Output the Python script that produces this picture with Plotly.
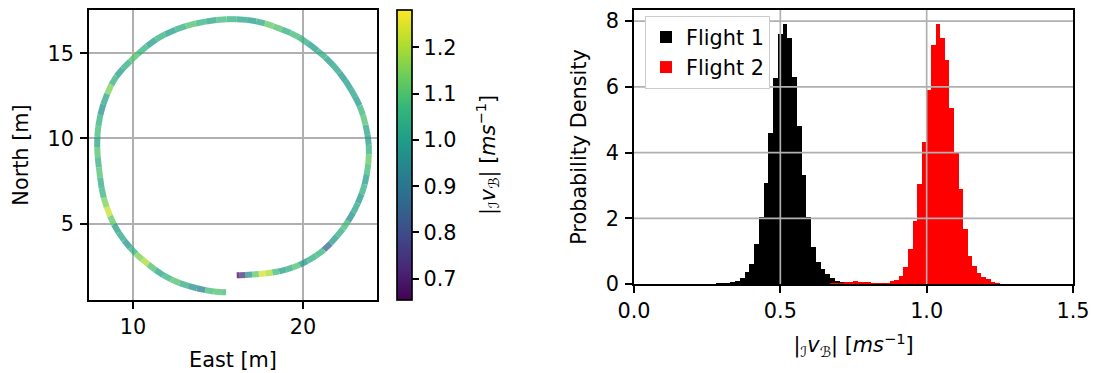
import plotly.graph_objects as go
from plotly.colors import sample_colorscale

# ---- trajectory (East / North in metres) and speed along it ----
east = [16.10, 16.45, 16.80, 17.20, 17.60, 18.00, 18.40, 18.80, 19.20, 19.60,
        20.00, 20.50, 21.00, 21.45, 21.80, 22.20, 22.50, 22.80, 23.10, 23.35,
        23.55, 23.70, 23.80, 23.87, 23.88, 23.85, 23.75, 23.60, 23.45, 23.20,
        22.95, 22.65, 22.35, 21.95, 21.55, 21.10, 20.60, 20.00, 19.50, 19.00,
        18.50, 18.00, 17.50, 17.00, 16.40, 15.80, 15.20, 14.60, 14.00, 13.40,
        12.80, 12.20, 11.60, 11.10, 10.55, 10.05, 9.60, 9.20, 8.85, 8.60,
        8.35, 8.15, 8.00, 7.92, 7.88, 7.90, 7.95, 8.03, 8.10, 8.20,
        8.35, 8.55, 8.75, 9.00, 9.30, 9.65, 10.00, 10.35, 10.70, 11.10,
        11.55, 12.00, 12.50, 13.00, 13.50, 14.00, 14.50, 15.00, 15.47]
north = [1.97, 1.98, 2.00, 2.03, 2.06, 2.10, 2.16, 2.25, 2.36, 2.50,
         2.67, 2.95, 3.26, 3.65, 4.05, 4.50, 4.90, 5.40, 5.90, 6.50,
         7.00, 7.60, 8.20, 8.80, 9.35, 9.90, 10.50, 11.10, 11.65, 12.20,
         12.65, 13.15, 13.60, 14.10, 14.55, 14.95, 15.35, 15.80, 16.10, 16.30,
         16.50, 16.68, 16.82, 16.93, 16.99, 17.01, 16.99, 16.92, 16.82, 16.68,
         16.50, 16.27, 15.97, 15.65, 15.20, 14.75, 14.30, 13.90, 13.40, 12.90,
         12.30, 11.70, 11.05, 10.40, 9.80, 9.20, 8.60, 8.00, 7.40, 6.80,
         6.25, 5.70, 5.20, 4.70, 4.25, 3.80, 3.40, 3.05, 2.78, 2.45,
         2.10, 1.85, 1.60, 1.42, 1.27, 1.15, 1.05, 0.99, 0.97]
speed = [0.66, 0.75, 0.97, 1.12, 1.24, 1.20, 1.08, 1.00, 1.04, 1.10,
         0.98, 1.04, 1.06, 0.86, 1.00, 1.04, 1.08, 0.96, 1.02, 0.98,
         1.05, 1.00, 1.08, 1.12, 1.05, 1.00, 1.02, 1.10, 1.07, 0.99,
         1.02, 1.00, 0.98, 1.02, 1.00, 1.04, 1.00, 1.05, 1.08, 1.04,
         1.10, 1.12, 1.03, 1.00, 1.02, 1.05, 1.08, 1.02, 1.06, 1.10,
         1.04, 1.00, 1.05, 1.00, 1.06, 1.10, 1.04, 1.00, 1.05, 1.15,
         1.02, 0.97, 1.05, 1.08, 1.02, 1.10, 1.05, 1.10, 1.04, 1.06,
         1.15, 1.23, 1.12, 1.00, 1.03, 0.98, 1.05, 1.15, 1.20, 1.10,
         1.02, 1.06, 1.10, 1.04, 0.97, 0.93, 1.08, 1.10, 1.08]
speed_min, speed_max = 0.654, 1.281
cbar_ticks = [0.7, 0.8, 0.9, 1.0, 1.1, 1.2]

# ---- speed histograms (left bin edges, bin width, probability density) ----
f1_edges = [0.2804, 0.2967, 0.3129, 0.3292, 0.3454, 0.3617, 0.3779, 0.3942,
            0.4104, 0.4267, 0.4429, 0.4592, 0.4754, 0.4917, 0.5079, 0.5242,
            0.5404, 0.5567, 0.5729, 0.5892, 0.6054, 0.6217, 0.6379, 0.6542,
            0.6704, 0.6867, 0.7029]
f1_width = 0.01625
f1_density = [0.01, 0.02, 0.02, 0.04, 0.09, 0.19, 0.37, 0.60, 1.21, 2.05,
              3.07, 4.59, 6.26, 7.60, 7.91, 7.49, 6.30, 4.81, 3.33, 2.03,
              1.13, 0.67, 0.47, 0.30, 0.19, 0.10, 0.04]

f2_edges = [0.6700, 0.6857, 0.7013, 0.7170, 0.7327, 0.7484, 0.7640, 0.7797,
            0.7954, 0.8110, 0.8267, 0.8424, 0.8580, 0.8737, 0.8894, 0.9051,
            0.9207, 0.9364, 0.9521, 0.9677, 0.9834, 0.9991, 1.0147, 1.0304,
            1.0461, 1.0618, 1.0774, 1.0931, 1.1088, 1.1244, 1.1401, 1.1558,
            1.1714, 1.1871, 1.2028, 1.2185, 1.2341]
f2_width = 0.01567
f2_density = [0.02, 0.03, 0.03, 0.05, 0.05, 0.09, 0.06, 0.06, 0.06, 0.02,
              0.02, 0.02, 0.03, 0.09, 0.12, 0.24, 0.52, 1.07, 1.92, 3.05,
              4.32, 5.89, 7.28, 7.91, 7.49, 6.82, 5.36, 3.98, 2.89, 1.67,
              0.85, 0.55, 0.33, 0.22, 0.16, 0.07, 0.02]

W, H = 1093, 373
FONT = "DejaVu Sans"
FS = 20.8
LW = 1.67
GRID = "#b0b0b0"
speed_label = "|<sub>ℐ</sub><i>v</i><sub>ℬ</sub>| [<i>ms</i><sup>−1</sup>]"

fig = go.Figure()

# trajectory: one short piece per sample, coloured by its speed
n = len(east)
for i in range(n):
    xs, ys = [], []
    if i > 0:
        xs.append((east[i - 1] + east[i]) / 2)
        ys.append((north[i - 1] + north[i]) / 2)
    xs.append(east[i])
    ys.append(north[i])
    if i < n - 1:
        xs.append((east[i] + east[i + 1]) / 2)
        ys.append((north[i] + north[i + 1]) / 2)
    t = (speed[i] - speed_min) / (speed_max - speed_min)
    col = sample_colorscale("Viridis", [min(max(t, 0), 1)])[0]
    fig.add_trace(go.Scatter(x=xs, y=ys, mode="lines",
                             line=dict(color=col, width=6),
                             opacity=0.75, showlegend=False, hoverinfo="skip",
                             xaxis="x", yaxis="y"))

cb_mid = (1 - 300 / H + 1 - 10 / H) / 2

# colour bar carrier
fig.add_trace(go.Scatter(
    x=east, y=north, mode="markers", showlegend=False, hoverinfo="skip",
    marker=dict(color=speed, colorscale="Viridis", cmin=speed_min, cmax=speed_max,
                size=1, opacity=0,
                colorbar=dict(
                    x=397 / W, xanchor="left", xref="paper",
                    y=cb_mid, yanchor="middle",
                    len=290 / H, lenmode="fraction", thickness=15,
                    xpad=0, ypad=0,
                    outlinewidth=LW, outlinecolor="black",
                    tickvals=cbar_ticks, ticktext=[f"{v:.1f}" for v in cbar_ticks],
                    ticks="outside", ticklen=7, tickwidth=LW, tickcolor="black",
                    tickfont=dict(family=FONT, size=FS, color="black"),
                )),
    xaxis="x", yaxis="y"))

# colour bar label
fig.add_annotation(text=speed_label, xref="paper", yref="paper",
                   x=487 / W, y=cb_mid, xanchor="center", yanchor="middle",
                   textangle=-90, showarrow=False,
                   font=dict(family=FONT, size=FS, color="black"))

# histograms
fig.add_trace(go.Bar(x=f1_edges, y=f1_density, width=f1_width, offset=0,
                     marker=dict(color="black", line=dict(width=0)),
                     name="Flight 1", xaxis="x2", yaxis="y2"))
fig.add_trace(go.Bar(x=f2_edges, y=f2_density, width=f2_width, offset=0,
                     marker=dict(color="red", line=dict(width=0)),
                     name="Flight 2", xaxis="x2", yaxis="y2"))

axis_common = dict(
    showline=True, mirror=True, linecolor="black", linewidth=LW,
    ticks="outside", ticklen=7, tickwidth=LW, tickcolor="black",
    tickfont=dict(family=FONT, size=FS, color="black"),
    showgrid=True, gridcolor=GRID, gridwidth=LW, zeroline=False,
    automargin=False,
    title_font=dict(family=FONT, size=FS, color="black"),
)

fig.update_layout(
    width=W, height=H,
    margin=dict(l=0, r=0, t=0, b=0, autoexpand=False),
    paper_bgcolor="white", plot_bgcolor="white",
    barmode="overlay", bargap=0,
    font=dict(family=FONT, size=FS, color="black"),
    xaxis=dict(domain=[89 / W, 377 / W], range=[7.41, 24.35],
               tickvals=[10, 20], title=dict(text="East [m]", standoff=15),
               anchor="y", **axis_common),
    yaxis=dict(domain=[1 - 300 / H, 1 - 10 / H], range=[0.52, 17.54],
               tickvals=[5, 10, 15], title=dict(text="North [m]", standoff=13),
               ticklabelstandoff=2,
               anchor="x", **axis_common),
    xaxis2=dict(domain=[634 / W, 1073 / W], range=[0, 1.5],
                tickvals=[0, 0.5, 1.0, 1.5], ticktext=["0.0", "0.5", "1.0", "1.5"],
                title=dict(text=speed_label, standoff=16),
                anchor="y2", **{**axis_common, "showgrid": False}),
    yaxis2=dict(domain=[1 - 284 / H, 1 - 10 / H], range=[0, 8.34],
                tickvals=[0, 2, 4, 6, 8], title=dict(text="Probability Density", standoff=13),
                ticklabelstandoff=2,
                anchor="x2", **{**axis_common, "showgrid": False}),
    legend=dict(x=645 / W, y=1 - 16 / H, xanchor="left", yanchor="top",
                bgcolor="white", bordercolor="#cccccc", borderwidth=1,
                font=dict(family=FONT, size=FS, color="black"),
                traceorder="normal"),
)

# grid lines of the histogram panel sit above the bars
for v in [0.5, 1.0]:
    fig.add_shape(type="line", xref="x2", yref="y2 domain", x0=v, x1=v, y0=0, y1=1,
                  line=dict(color=GRID, width=LW), layer="above")
for v in [2, 4, 6, 8]:
    fig.add_shape(type="line", xref="x2 domain", yref="y2", x0=0, x1=1, y0=v, y1=v,
                  line=dict(color=GRID, width=LW), layer="above")

fig.write_html("out.html")
